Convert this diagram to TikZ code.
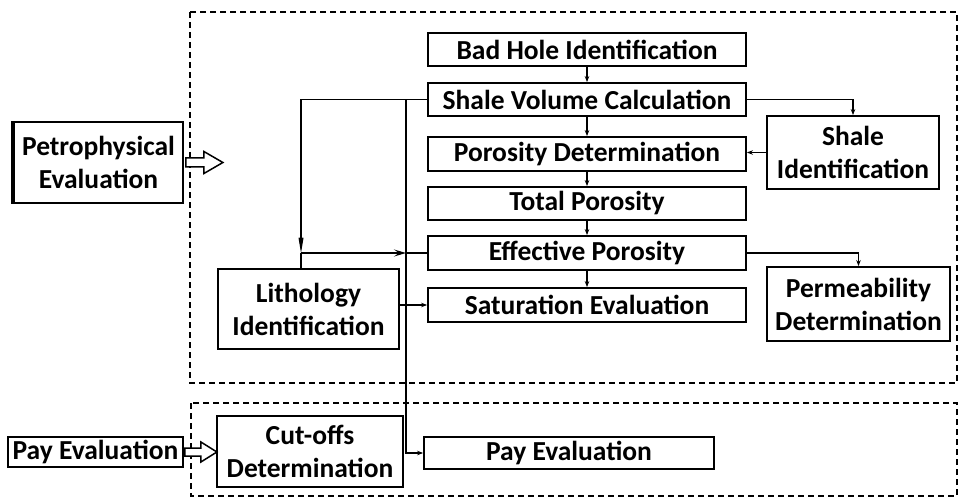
\documentclass[tikz,border=0pt]{standalone}
\usepackage{fontspec}
\setmainfont{Carlito}
\usetikzlibrary{arrows.meta,calc}
\begin{document}
\begin{tikzpicture}[x=1pt,y=-1pt,
  box/.style={draw, line width=1.8pt, inner sep=0pt, align=center, font=\bfseries\fontsize{27.5}{33}\selectfont},
  conn/.style={line width=1.2pt},
  arr/.style={conn, -{Stealth[length=6pt,width=4.5pt]}},
  longarr/.style={conn, -{Stealth[length=24pt,width=8pt,inset=13pt]}},
  midarr/.style={conn, -{Stealth[length=12pt,width=7pt,inset=5pt]}},
  group/.style={draw, line width=1.4pt, dash pattern=on 6pt off 4pt},
  hollow/.style={draw, line width=1.5pt, fill=white, line join=miter}]
\useasboundingbox (0,0) rectangle (965,497);

% group frames
\draw[group] (190,12) rectangle (957,383);
\draw[group] (191,403) rectangle (957,496);

% main column
\node[box, minimum width=318pt, minimum height=33pt] (bad) at (587,49.5) {Bad Hole Identification};
\node[box, minimum width=318pt, minimum height=33pt] (svc) at (587,99.5) {Shale Volume Calculation};
\node[box, minimum width=318pt, minimum height=34pt] (por) at (587,154) {Porosity Determination};
\node[box, minimum width=318pt, minimum height=33pt] (tot) at (587,203.5) {Total Porosity};
\node[box, minimum width=318pt, minimum height=34pt] (eff) at (587,253) {Effective Porosity};
\node[box, minimum width=318pt, minimum height=34pt] (sat) at (587,305) {Saturation Evaluation};

% side boxes
\node[box, minimum width=172pt, minimum height=73pt] (shid) at (853,152.5) {Shale\\Identification};
\node[box, minimum width=183pt, minimum height=74pt] (perm) at (858.5,304) {Permeability\\Determination};
\node[box, minimum width=181pt, minimum height=80pt] (litho) at (308.5,309) {Lithology\\Identification};
\node[box, minimum width=186pt, minimum height=71pt] (cut) at (310,451.5) {Cut-offs\\Determination};
\node[box, minimum width=290pt, minimum height=32pt] (payR) at (569,453) {Pay Evaluation};

% left labels
\node[box, minimum width=169pt, minimum height=81pt] (petro) at (98.5,162.5) {Petrophysical\\Evaluation};
\draw[line width=4pt] (petro.north west) -- (petro.south west);
\node[box, minimum width=175pt, minimum height=30pt] (payL) at (95.5,452) {Pay Evaluation};

% hollow arrows
\begin{scope}[shift={(petro.east)}]
  \draw[hollow] (2,-4.5) -- (20,-4.5) -- (20,-11) -- (39,0) -- (20,11) -- (20,4.5) -- (2,4.5) -- cycle;
\end{scope}
\begin{scope}[shift={(payL.east)}]
  \draw[hollow] (1,-4) -- (17,-4) -- (17,-10) -- (33,0) -- (17,10) -- (17,4) -- (1,4) -- cycle;
\end{scope}

% column connectors
\draw[arr] (bad.south) -- (svc.north);
\draw[arr] (svc.south) -- (por.north);
\draw[arr] (por.south) -- (tot.north);
\draw[arr] (tot.south) -- (eff.north);
\draw[arr] (eff.south) -- (sat.north);

% side connectors
\draw[arr] (svc.east) -| (shid.north);
\draw[arr] (shid.west) -- (shid.west -| por.east);
\draw[arr] (eff.east) -| (perm.north);
\draw[arr] (litho.east |- sat.west) -- (sat.west);

% left loop
\coordinate (jl) at (301,253);
\coordinate (vl) at (406,99.5);
\draw[longarr] (svc.west) -| (jl);
\draw[conn] (jl |- litho.north) -- (jl);
\draw[midarr] (jl) -- (jl -| vl);
\draw[conn] (jl -| vl) -- (eff.west);

% long vertical to pay evaluation
\draw[arr] (vl) |- (payR.west);
\end{tikzpicture}
\end{document}
